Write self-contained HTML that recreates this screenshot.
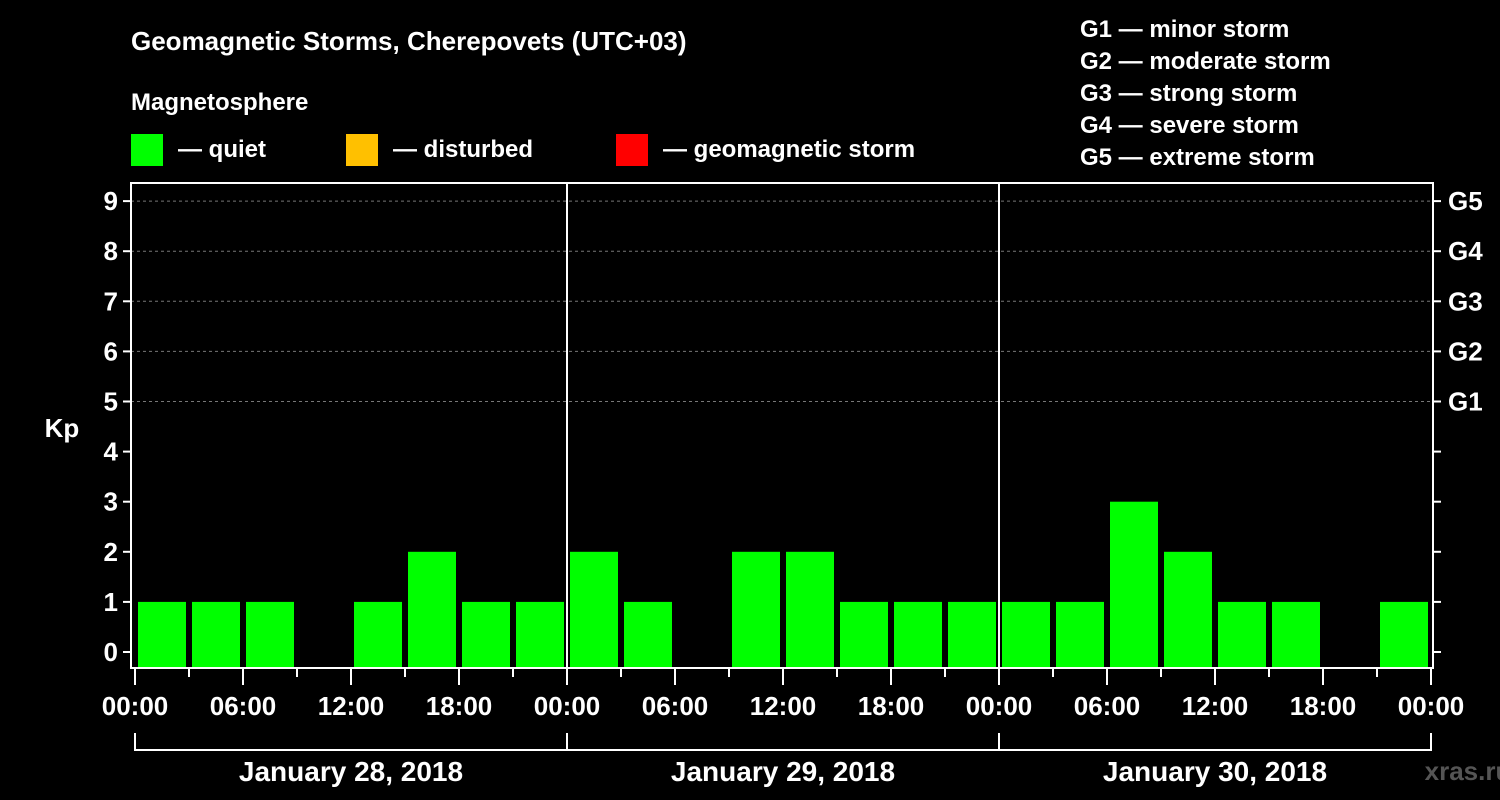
<!DOCTYPE html>
<html><head><meta charset="utf-8"><style>
html,body{margin:0;padding:0;background:#000;}
svg{display:block;font-family:"Liberation Sans",Arial,sans-serif;font-weight:bold;}
</style></head><body>
<svg id="chart" width="1500" height="800" viewBox="0 0 1500 800">
<text x="131" y="50" fill="#fff" font-size="26">Geomagnetic Storms, Cherepovets (UTC+03)</text>
<text x="131" y="110" fill="#fff" font-size="24">Magnetosphere</text>
<g><rect x="131" y="134" width="32" height="32" fill="#00ff00"/><text x="178" y="157" fill="#fff" font-size="24">— quiet</text></g>
<g><rect x="346" y="134" width="32" height="32" fill="#ffc000"/><text x="393" y="157" fill="#fff" font-size="24">— disturbed</text></g>
<g><rect x="616" y="134" width="32" height="32" fill="#ff0000"/><text x="663" y="157" fill="#fff" font-size="24">— geomagnetic storm</text></g>
<g fill="#fff" font-size="24">
<text x="1080" y="37">G1 — minor storm</text>
<text x="1080" y="69">G2 — moderate storm</text>
<text x="1080" y="101">G3 — strong storm</text>
<text x="1080" y="133">G4 — severe storm</text>
<text x="1080" y="165">G5 — extreme storm</text>
</g>
<text x="62" y="437" fill="#fff" font-size="26" text-anchor="middle">Kp</text>
<text x="1468" y="780" fill="#555" font-size="26" text-anchor="middle">xras.ru</text>
<g id="g"></g>
</svg>
<script>
const kpValues=[1,1,1,0,1,2,1,1, 2,1,0,2,2,1,1,1, 1,1,3,2,1,1,0,1];
const yTicks=[0,1,2,3,4,5,6,7,8,9];
const gLabels=["G1","G2","G3","G4","G5"];
const timeLabels=["00:00","06:00","12:00","18:00","00:00","06:00","12:00","18:00","00:00","06:00","12:00","18:00","00:00"];
const dayLabels=["January 28, 2018","January 29, 2018","January 30, 2018"];
const NS="http://www.w3.org/2000/svg";
const g=document.getElementById('g');
const L=131,R=1433,T=183,B=668,X0=135,SLOT=54;
const y=v=>652-v*50.1;
const x=i=>X0+i*SLOT;
function mk(t,a,p){const e=document.createElementNS(NS,t);for(const k in a)e.setAttribute(k,a[k]);(p||g).appendChild(e);return e;}
yTicks.forEach(v=>{
 if(v>=5){const ln=mk('line',{x1:L,x2:R,y1:y(v),y2:y(v),stroke:'#777','stroke-dasharray':'3,3'});
 
 }
 mk('line',{x1:L-8,x2:L,y1:y(v),y2:y(v),stroke:'#fff','stroke-width':2});
 mk('line',{x1:R,x2:R+8,y1:y(v),y2:y(v),stroke:'#fff','stroke-width':2});
 const t=mk('text',{x:L-13,y:y(v)+9,fill:'#fff','font-size':26,'text-anchor':'end'});t.textContent=v;
 
 
 if(v>=5){const gt=mk('text',{x:1448,y:y(v)+9,fill:'#fff','font-size':26});gt.textContent=gLabels[v-5];
 
 }
});
kpValues.forEach((v,i)=>{
 if(v<=0)return;
 const c=v>=5?'#ff0000':(v>=4?'#ffc000':'#00ff00');
 const b=mk('rect',{x:x(i)+3,y:y(v),width:48,height:B-y(v),fill:c});
 
 
});
[1,2].forEach(d=>mk('line',{x1:x(d*8),x2:x(d*8),y1:T,y2:B,stroke:'#fff','stroke-width':2}));
const fr=mk('rect',{x:L,y:T,width:R-L,height:B-T,fill:'none',stroke:'#fff','stroke-width':2});


for(let i=0;i<=kpValues.length;i++){
 const maj=i%2==0;
 mk('line',{x1:x(i),x2:x(i),y1:B,y2:B+(maj?17:9),stroke:'#fff','stroke-width':2});
 if(maj){const t=mk('text',{x:x(i),y:715,fill:'#fff','font-size':26,'text-anchor':'middle'});t.textContent=timeLabels[i/2];
 
 }
}
dayLabels.forEach((d,k)=>{
 const a=x(k*8),b=x(k*8+8);
 mk('path',{d:`M${a} 733V750H${b}V733`,fill:'none',stroke:'#fff','stroke-width':2});
 const t=mk('text',{x:(a+b)/2,y:781,fill:'#fff','font-size':28,'text-anchor':'middle'});t.textContent=d;
 
 
});
</script>
</body></html>
